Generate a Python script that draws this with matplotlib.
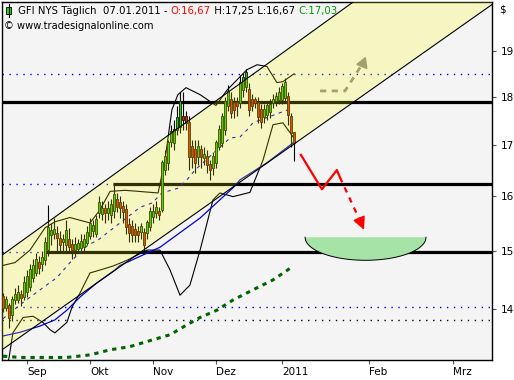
import numpy as np
import pandas as pd
import matplotlib
matplotlib.use('Agg')
import matplotlib.pyplot as plt
from matplotlib.patches import Polygon

# trading days on the chart (US market holidays removed)
dates = pd.bdate_range('2010-08-20', '2011-01-07')
dates = dates[~dates.isin(pd.to_datetime(['2010-09-06', '2010-11-25', '2010-12-24']))]

# daily candles
opens = [14.20, 14.02, 14.05, 13.90, 14.15, 14.15, 14.24, 14.20, 14.28, 14.37,
         14.53, 14.61, 14.78, 14.76, 14.83, 15.01, 15.28, 15.30, 15.31, 15.22,
         15.15, 15.10, 15.20, 15.10, 15.02, 15.03, 15.05, 15.07, 15.14, 15.26,
         15.35, 15.30, 15.68, 15.66, 15.76, 15.68, 15.65, 15.72, 15.93, 15.87,
         15.80, 15.74, 15.46, 15.43, 15.37, 15.33, 15.33, 15.32, 15.32, 15.43,
         15.61, 15.68, 15.70, 15.74, 16.50, 16.64, 17.06, 17.04, 17.30, 17.36,
         17.57, 17.57, 17.45, 16.96, 16.90, 16.76, 16.90, 16.74, 16.76, 16.60,
         16.54, 16.64, 16.96, 17.04, 17.30, 17.79, 17.93, 17.87, 17.87, 17.87,
         18.14, 18.21, 18.14, 17.93, 17.93, 17.87, 17.72, 17.57, 17.62, 17.68,
         17.87, 17.91, 17.93, 17.93, 17.97, 17.99, 17.57, 17.25]
highs = [14.27, 14.22, 14.10, 14.22, 14.36, 14.40, 14.32, 14.55, 14.66, 14.76,
         14.86, 14.96, 14.90, 15.00, 15.25, 15.83, 15.50, 15.60, 15.45, 15.35,
         15.30, 15.55, 15.40, 15.20, 15.25, 15.20, 15.30, 15.30, 15.45, 15.60,
         15.55, 15.65, 16.00, 15.90, 15.85, 15.90, 15.95, 16.25, 16.05, 16.00,
         15.90, 15.85, 15.60, 15.55, 15.50, 15.45, 15.50, 15.40, 15.55, 15.80,
         15.85, 15.90, 15.80, 16.70, 16.90, 17.10, 17.40, 17.50, 17.80, 18.10,
         18.10, 17.70, 17.60, 17.10, 17.10, 17.10, 17.00, 16.95, 16.90, 16.70,
         16.85, 17.10, 17.40, 17.65, 18.00, 18.25, 18.10, 18.00, 18.00, 18.47,
         18.50, 18.60, 18.30, 18.05, 18.00, 18.00, 17.85, 17.85, 17.90, 17.95,
         18.05, 18.10, 18.20, 18.30, 18.40, 18.10, 17.65, 17.25]
lows = [13.95, 13.97, 13.69, 13.80, 14.08, 14.10, 14.05, 14.15, 14.20, 14.30,
        14.45, 14.55, 14.60, 14.65, 14.75, 14.90, 15.10, 15.20, 15.00, 14.95,
        14.95, 15.00, 14.95, 14.85, 14.90, 14.95, 15.00, 15.00, 15.10, 15.20,
        15.25, 15.25, 15.60, 15.55, 15.50, 15.55, 15.50, 15.60, 15.70, 15.60,
        15.50, 15.30, 15.15, 15.15, 15.15, 15.15, 15.20, 14.95, 15.20, 15.35,
        15.50, 15.60, 15.55, 15.70, 16.40, 16.50, 16.95, 16.90, 17.20, 17.25,
        17.30, 17.30, 16.50, 16.55, 16.45, 16.60, 16.55, 16.60, 16.45, 16.30,
        16.40, 16.55, 16.90, 16.95, 17.20, 17.70, 17.55, 17.55, 17.60, 17.75,
        18.00, 18.10, 17.60, 17.70, 17.75, 17.45, 17.35, 17.45, 17.50, 17.55,
        17.75, 17.80, 17.85, 17.85, 17.90, 17.40, 16.95, 16.67]
closes = [14.02, 14.15, 13.85, 14.15, 14.23, 14.27, 14.19, 14.44, 14.55, 14.66,
          14.74, 14.83, 14.70, 14.87, 15.14, 15.41, 15.35, 15.37, 15.23, 15.10,
          15.20, 15.35, 15.06, 15.01, 15.10, 15.12, 15.15, 15.20, 15.32, 15.48,
          15.45, 15.55, 15.87, 15.76, 15.68, 15.76, 15.83, 16.02, 15.80, 15.78,
          15.70, 15.43, 15.32, 15.28, 15.28, 15.28, 15.43, 15.10, 15.50, 15.70,
          15.70, 15.78, 15.65, 16.64, 16.76, 17.04, 17.26, 17.30, 17.55, 17.89,
          17.51, 17.45, 16.76, 16.76, 16.64, 16.96, 16.76, 16.80, 16.60, 16.50,
          16.76, 17.04, 17.30, 17.57, 17.89, 18.10, 17.66, 17.72, 17.81, 18.30,
          18.40, 18.51, 17.72, 17.81, 17.87, 17.57, 17.47, 17.72, 17.81, 17.83,
          17.93, 17.99, 18.08, 18.21, 18.30, 17.62, 17.24, 17.03]

# indicator lines (bar index, price)
bb_up_x = [0, 4, 9, 14, 17.3, 22.3, 29, 32.3, 35.7, 40.7, 47.3, 51.7, 54, 56.3, 58.3,
           61, 65.7, 71, 74.7, 81.3, 84.7, 88, 91.3, 93.3, 97]
bb_up = [14.74, 14.79, 15.01, 15.41, 15.52, 15.60, 15.50, 15.74, 16.09, 16.11, 16.08,
         16.06, 16.70, 17.72, 18.04, 18.19, 18.04, 17.81, 18.14, 18.58, 18.69, 18.65,
         18.30, 18.32, 18.49]
bb_lo_x = [0, 2, 3.3, 6.7, 10, 13.3, 15.7, 17.3, 21.3, 23, 25.7, 29, 32.3, 36.7, 41.3,
           48, 52.3, 55.7, 59, 62.3, 65.7, 70, 72.3, 76.7, 82.3, 86.7, 90, 93.3, 96.7]
bb_lo = [12.85, 13.21, 13.61, 13.86, 13.88, 13.78, 13.66, 13.61, 13.78, 14.03, 14.27,
         14.61, 14.66, 14.73, 14.83, 15.01, 15.01, 14.66, 14.23, 14.40, 15.01, 15.93,
         16.06, 15.99, 16.07, 16.70, 17.41, 17.45, 17.16]
sma20_x = [0, 5.7, 12.3, 18, 23, 28.3, 31.7, 45.7, 49.7, 53, 58.3, 61.3, 64, 75.7, 79,
           81.3, 83.3, 96.7]
sma20 = [13.84, 14.07, 14.32, 14.53, 14.83, 15.10, 15.19, 15.79, 15.87, 16.06, 16.15,
         16.31, 16.50, 17.14, 17.16, 17.30, 17.45, 17.76]
sma50_x = [0, 5.7, 12.3, 17.3, 21.3, 25.7, 31.3, 37.3, 39, 52.3, 65.7, 76.7, 79, 87.9, 96.7]
sma50 = [13.56, 13.62, 13.72, 13.82, 13.98, 14.20, 14.44, 14.66, 14.74, 15.06, 15.59,
         16.16, 16.31, 16.64, 17.04]
sma200_x = [0, 5.7, 12.3, 21.3, 29, 35.7, 42.3, 50, 55.7, 61.3, 65.7, 71.3, 76.7, 83.3,
            90, 95.7]
sma200 = [13.24, 13.22, 13.22, 13.22, 13.26, 13.34, 13.39, 13.50, 13.58, 13.74, 13.86,
          13.98, 14.15, 14.32, 14.49, 14.69]

# drawn objects
channel_x = [-0.33, 163]
channel_up = [14.92, 22.66]
channel_lo = [13.34, 20.07]
support = [17.88, 16.24, 14.98]
support_start = [-0.33, 36.7, 14]
dotted_blue = [18.49, 16.24, 14.98, 14.03]
dotted_black = [13.82]
up_arrow_x = [105.7, 114, 120.2]
up_arrow_y = [18.12, 18.12, 18.75]
up_tip = (121.3, 18.93)
dn_arrow_x = [99.3, 106.3, 111.3, 112.3]
dn_arrow_y = [16.80, 16.13, 16.50, 16.36]
dn_dash_x = [112.3, 119.6]
dn_dash_y = [16.36, 15.47]
dn_tip = (120.7, 15.33)
bowl_x = (100.7, 141.0)
bowl_y = (15.24, 14.83)

month_starts = ['2010-09-01', '2010-10-01', '2010-11-01', '2010-12-01', '2011-01-01',
                '2011-02-01', '2011-03-01']
month_labels = ['Sep', 'Okt', 'Nov', 'Dez', '2011', 'Feb', 'Mrz']
price_ticks = [14, 15, 16, 17, 18, 19]

# positions of month ticks: trading days inside the data, calendar days after it
last = len(dates) - 1
tick_pos = []
for d in pd.to_datetime(month_starts):
    if d <= dates[-1]:
        tick_pos.append(int(dates.searchsorted(d)))
    else:
        tick_pos.append(last + (d - dates[-1]).days)

fig = plt.figure(figsize=(5.14, 3.80), dpi=100)
ax = fig.add_axes([2 / 514, 20 / 380, 490 / 514, 358 / 380])
ax.set_facecolor('#f4f4f4')
ax.set_yscale('log')
ax.set_xlim(-0.33, 163)
ax.set_ylim(13.18, 20.13)

# horizontal levels
for lvl in dotted_blue:
    ax.axhline(lvl, color='#0000ee', lw=1, ls=(0, (1, 4)), zorder=1)
for lvl in dotted_black:
    ax.axhline(lvl, color='black', lw=1, ls=(0, (1, 4)), zorder=1)
for lvl, x0 in zip(support, support_start):
    ax.plot([x0, 163], [lvl, lvl], color='black', lw=2.3, zorder=2, solid_capstyle='butt')

# indicators
ax.plot(bb_up_x, bb_up, color='black', lw=0.8, zorder=2)
ax.plot(bb_lo_x, bb_lo, color='black', lw=0.8, zorder=2)
ax.plot(sma20_x, sma20, color='#0000dd', lw=0.8, ls=(0, (3, 4)), zorder=2)
ax.plot(sma50_x, sma50, color='#0000dd', lw=0.9, zorder=2)
ax.plot(sma200_x, sma200, color='#006400', lw=2.2, ls=(0, (1.4, 1.6)), zorder=5)

# candles
idx = np.arange(len(dates))
o = np.array(opens)
c = np.array(closes)
up = c >= o
ax.vlines(idx, lows, highs, color='black', lw=0.8, zorder=3)
ax.bar(idx, np.abs(c - o) + 0.015, bottom=np.minimum(o, c), width=0.75,
       color=np.where(up, '#22d400', '#ff1a00'), edgecolor='#1a1a00', lw=0.6, zorder=3)

# grey projection arrow (inside the channel)
ax.plot(up_arrow_x, up_arrow_y, color='#8c8c8c', lw=2, ls=(0, (2.2, 2)), zorder=3)
ax.annotate('', xy=up_tip, xytext=(up_arrow_x[-1], up_arrow_y[-1]),
            arrowprops=dict(arrowstyle='-|>,head_length=0.6,head_width=0.35',
                            color='#8c8c8c', lw=1.5), zorder=3)

# trend channel
ax.add_patch(Polygon([(channel_x[0], channel_up[0]), (channel_x[1], channel_up[1]),
                      (channel_x[1], channel_lo[1]), (channel_x[0], channel_lo[0])],
                     closed=True, facecolor='#ffff00', alpha=0.2, lw=0, zorder=4))
ax.plot(channel_x, channel_up, color='black', lw=0.8, zorder=5)
ax.plot(channel_x, channel_lo, color='black', lw=0.8, zorder=5)

# red projection arrow
ax.plot(dn_arrow_x, dn_arrow_y, color='#ff0000', lw=1.6, zorder=6)
ax.plot(dn_dash_x, dn_dash_y, color='#ff0000', lw=1.6, ls=(0, (2.5, 2.5)), zorder=6)
ax.annotate('', xy=dn_tip, xytext=(dn_dash_x[-1], dn_dash_y[-1]),
            arrowprops=dict(arrowstyle='-|>,head_length=0.7,head_width=0.35',
                            color='#ff0000', lw=1.5), zorder=6)

# target zone
t = np.linspace(0, np.pi, 60)
cx = (bowl_x[0] + bowl_x[1]) / 2
a = (bowl_x[1] - bowl_x[0]) / 2
bx = cx + a * np.cos(t)
by = np.exp(np.log(bowl_y[0]) - (np.log(bowl_y[0]) - np.log(bowl_y[1])) * np.sin(t))
ax.fill(bx, by, color='#a6e3a6', lw=0, zorder=6)
ax.plot(bx, by, color='black', lw=0.7, zorder=6)

# axes
for s in ax.spines.values():
    s.set_color('black')
    s.set_linewidth(1)
ax.yaxis.tick_right()
ax.yaxis.set_minor_locator(matplotlib.ticker.NullLocator())
ax.set_yticks(price_ticks)
ax.set_yticklabels([str(v) for v in price_ticks])
ax.set_xticks(tick_pos)
ax.set_xticklabels(month_labels, ha='left')
ax.tick_params(axis='both', length=3, width=0.8, color='#555555', labelsize=7.5,
               pad=2, direction='out')
ax.tick_params(axis='y', pad=3)

fig.text(499 / 514, 1 - 10 / 380, '$', fontsize=7.5, va='center')

# title line with coloured parts
parts = [('GFI NYS Täglich  07.01.2011 - ', 'black'), ('O:16,67', '#ff0000'),
         (' H:17,25 L:16,67 ', 'black'), ('C:17,03', '#009900')]
fig.canvas.draw()
rend = fig.canvas.get_renderer()
xpos = 18 / 514
for txt, col in parts:
    tx = fig.text(xpos, 1 - 11 / 380, txt, fontsize=7.3, color=col, va='center')
    bb = tx.get_window_extent(renderer=rend)
    xpos = (bb.x1) / 514
fig.text(4 / 514, 1 - 26 / 380, '© www.tradesignalonline.com', fontsize=7.1, va='center')
# small candle symbol in front of the title
fig.add_artist(plt.Line2D([8.5 / 514, 8.5 / 514], [1 - 17 / 380, 1 - 4 / 380],
                          color='black', lw=0.8))
fig.add_artist(plt.Rectangle((6 / 514, 1 - 14 / 380), 5 / 514, 7 / 380,
                             facecolor='#22dd00', edgecolor='black', lw=0.6))

fig.savefig('out.png', dpi=100)
